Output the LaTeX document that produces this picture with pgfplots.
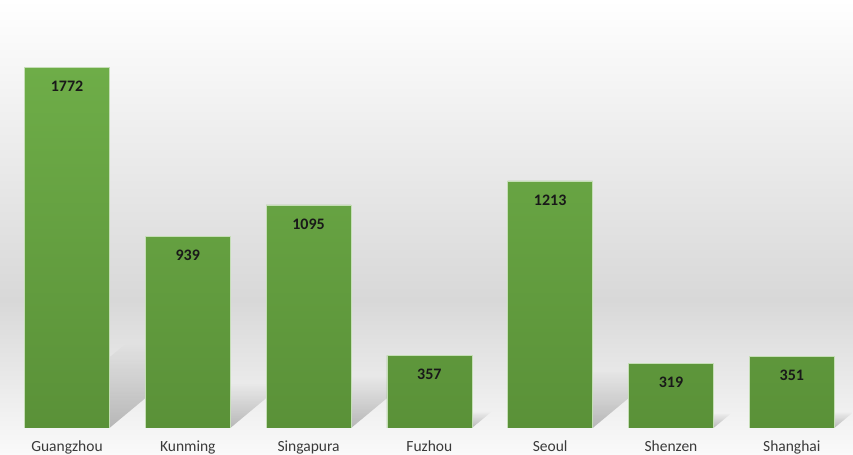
\documentclass[border=0pt]{standalone}
\usepackage{pgfplots}
\pgfplotsset{compat=1.18}
\usepackage{fontspec}
\setmainfont{Carlito}
\usetikzlibrary{fadings}
\definecolor{bartop}{HTML}{6EAD48}
\definecolor{barbot}{HTML}{5A9138}
\definecolor{bgtop}{HTML}{FFFFFF}
\definecolor{bgmid}{HTML}{D8D8D8}
\definecolor{bgbot}{HTML}{FAFAFA}
\definecolor{lblcol}{HTML}{3A3A3A}
\begin{document}
\begin{tikzpicture}
% background gradient
\fill[top color=bgtop, bottom color=bgmid] (-6.6bp,128bp) rectangle (846.4bp,428bp);
\fill[top color=bgmid, bottom color=bgbot] (-6.6bp,-27bp) rectangle (846.4bp,128.1bp);
\useasboundingbox (-6.6bp,-27bp) rectangle (846.4bp,428bp);
\begin{axis}[
  at={(0,0)}, anchor=south west,
  scale only axis,
  width=845.6bp, height=428bp,
  xmin=-0.5, xmax=6.5, ymin=0, ymax=2101,
  axis line style={draw=none},
  hide y axis,
  xtick={0,1,2,3,4,5,6},
  xticklabels={Guangzhou,Kunming,Singapura,Fuzhou,Seoul,Shenzen,Shanghai},
  major tick length=0pt,
  xticklabel style={font=\fontsize{15.5bp}{17bp}\selectfont, text=lblcol, yshift=-9bp},
  /pgf/number format/.cd, 1000 sep={}, assume math mode=true,
  /pgfplots/.cd,
  clip=true,
]
% perspective shadows
\pgfplotsset{shad/.style={fill=black, fill opacity=0.25, draw=none, path fading=north}}
\addplot[shad] coordinates {(-0.352,0) (0.491,416) (1.195,416) (0.352,0)} \closedcycle;
\addplot[shad] coordinates {(0.648,0) (1.095,221) (1.799,221) (1.352,0)} \closedcycle;
\addplot[shad] coordinates {(1.648,0) (2.169,257) (2.873,257) (2.352,0)} \closedcycle;
\addplot[shad] coordinates {(2.648,0) (2.818,84) (3.522,84) (3.352,0)} \closedcycle;
\addplot[shad] coordinates {(3.648,0) (4.225,285) (4.929,285) (4.352,0)} \closedcycle;
\addplot[shad] coordinates {(4.648,0) (4.800,75) (5.504,75) (5.352,0)} \closedcycle;
\addplot[shad] coordinates {(5.648,0) (5.815,82.5) (6.519,82.5) (6.352,0)} \closedcycle;
% bars
\addplot[ybar, bar width=0.704, top color=bartop, bottom color=barbot,
  draw=bartop!40!white, line width=0.6bp,
  nodes near coords,
  nodes near coords style={anchor=north, yshift=-10bp, text=black!90,
    font=\bfseries\fontsize{16bp}{18bp}\selectfont, fill opacity=1, text opacity=1}]
  coordinates {(0,1772) (1,939) (2,1095) (3,357) (4,1213) (5,319) (6,351)};
\end{axis}
\end{tikzpicture}
\end{document}
